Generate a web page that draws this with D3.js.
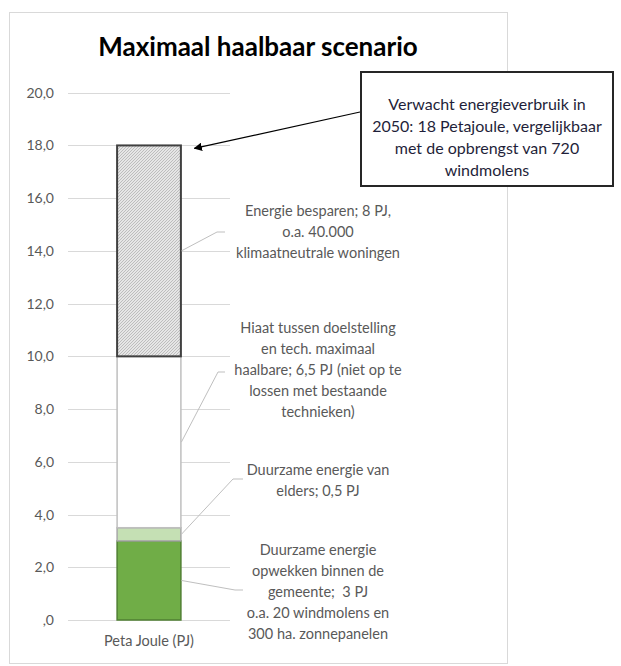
<!DOCTYPE html>
<html>
<head>
<meta charset="utf-8">
<script src="https://cdn.jsdelivr.net/npm/d3@7/dist/d3.min.js"></script>
<style>
  body { margin: 0; background: #fff; }
  svg { display: block; font-family: Lato, "Open Sans", sans-serif; }
</style>
</head>
<body>
<div id="chart"></div>
<script>
// data
var categories = ["Peta Joule (PJ)"];
var segmentNames = ["Duurzaam gemeente", "Duurzaam elders", "Hiaat", "Energie besparen"];
var segmentValues = [3, 0.5, 6.5, 8];
var yTicks = [0, 2, 4, 6, 8, 10, 12, 14, 16, 18, 20];
var segmentLabels = [
  ["Duurzame energie", "opwekken binnen de", "gemeente;  3 PJ", "o.a. 20 windmolens en", "300 ha. zonnepanelen"],
  ["Duurzame energie van", "elders; 0,5 PJ"],
  ["Hiaat tussen doelstelling", "en tech. maximaal", "haalbare; 6,5 PJ (niet op te", "lossen met bestaande", "technieken)"],
  ["Energie besparen; 8 PJ,", "o.a. 40.000", "klimaatneutrale woningen"]
];
var calloutLines = ["Verwacht energieverbruik in", "2050: 18 Petajoule, vergelijkbaar", "met de opbrengst van 720", "windmolens"];
var titleText = "Maximaal haalbaar scenario";

var width = 621, height = 666;

var svg = d3.select("#chart").append("svg")
    .attr("width", width)
    .attr("height", height);

// hatch for the savings segment
var defs = svg.append("defs");
var pat = defs.append("pattern")
    .attr("id", "hatch")
    .attr("patternUnits", "userSpaceOnUse")
    .attr("width", 3)
    .attr("height", 3);
pat.append("rect").attr("width", 3).attr("height", 3).attr("fill", "#e6e6e6");
pat.append("path")
    .attr("d", "M-1,1 l2,-2 M0,3 l3,-3 M2,4 l2,-2")
    .attr("stroke", "#b2b2b2")
    .attr("stroke-width", 0.8);

defs.append("marker")
    .attr("id", "arrow")
    .attr("viewBox", "0 0 10 10")
    .attr("refX", 9).attr("refY", 5)
    .attr("markerWidth", 7).attr("markerHeight", 7)
    .attr("orient", "auto-start-reverse")
    .append("path")
    .attr("d", "M0,0 L10,5 L0,10 z")
    .attr("fill", "#000");

// chart frame
svg.append("rect")
    .attr("x", 9.5).attr("y", 12.5)
    .attr("width", 498).attr("height", 651)
    .attr("fill", "#fff")
    .attr("stroke", "#d9d9d9");

svg.append("text")
    .attr("x", 258).attr("y", 56)
    .attr("text-anchor", "middle")
    .attr("font-size", 26)
    .attr("font-weight", "bold")
    .attr("fill", "#000")
    .text(titleText);

var x = d3.scaleBand().domain(categories).range([68, 230]).paddingInner(0.6).paddingOuter(0.296);
var y = d3.scaleLinear().domain([0, 20]).range([620, 92.7]);

// gridlines
svg.append("g").selectAll("line").data(yTicks).enter().append("line")
    .attr("x1", 68).attr("x2", 230)
    .attr("y1", function(d){ return Math.round(y(d)) + 0.5; })
    .attr("y2", function(d){ return Math.round(y(d)) + 0.5; })
    .attr("stroke", "#d9d9d9");

var yAxis = d3.axisLeft(y).tickValues(yTicks).tickSize(0).tickPadding(0)
    .tickFormat(function(d){ return d == 0 ? ",0" : d.toFixed(1).replace(".", ","); });
var ya = svg.append("g").attr("transform", "translate(54,0)").call(yAxis);
ya.select(".domain").remove();
ya.selectAll("text").attr("font-size", 14).attr("fill", "#595959").attr("font-family", "Lato, sans-serif");

var xAxis = d3.axisBottom(x).tickSize(0).tickPadding(16);
var xa = svg.append("g").attr("transform", "translate(0,620)").call(xAxis);
xa.select(".domain").remove();
xa.selectAll("text").attr("font-size", 14.5).attr("fill", "#595959").attr("font-family", "Lato, sans-serif");

// stacked segments
var stackData = [];
var acc = 0;
for (var i = 0; i < segmentValues.length; i++) {
    stackData.push({ name: segmentNames[i], y0: acc, y1: acc + segmentValues[i], labels: segmentLabels[i] });
    acc += segmentValues[i];
}
var fills = ["#70ad47", "#c5e0b4", "#ffffff", "url(#hatch)"];
var strokes = ["#4f7f32", "#a9a9a9", "#bfbfbf", "#404040"];
var bw = x.bandwidth();
var bx = x(categories[0]);

svg.append("g").selectAll("rect").data(stackData).enter().append("rect")
    .attr("x", bx + 0.5)
    .attr("y", function(d){ return y(d.y1); })
    .attr("width", bw - 1)
    .attr("height", function(d){ return y(d.y0) - y(d.y1); })
    .attr("fill", function(d, i){ return fills[i]; })
    .attr("stroke", function(d, i){ return strokes[i]; })
    .attr("stroke-width", function(d, i){ return i == 3 ? 2 : 1.5; });

// labels and leader lines
var labelX = 318;
var labelTop = [550, 470, 328, 211];   // centre of first line
var lineH = 21;
var elbows = [[235, 590, 243], [233, 479, 243], [218, 372, 225], [217, 232, 225]];

var ann = svg.append("g");
stackData.forEach(function(d, i){
    var e = elbows[i];
    ann.append("polyline")
        .attr("points", [[bx + bw, y((d.y0 + d.y1) / 2)], [e[0], e[1]], [e[2], e[1]]].join(" "))
        .attr("fill", "none")
        .attr("stroke", "#bfbfbf")
        .attr("stroke-width", 1);
    var t = ann.append("text")
        .attr("text-anchor", "middle")
        .attr("font-size", 14.5)
        .attr("fill", "#595959")
        .style("white-space", "pre");
    d.labels.forEach(function(s, k){
        t.append("tspan").attr("x", labelX).attr("y", labelTop[i] + k * lineH + 5).text(s);
    });
});

// callout box with arrow to the top of the bar
svg.append("line")
    .attr("x1", 360).attr("y1", 112)
    .attr("x2", bx + bw + 13).attr("y2", y(acc) + 3)
    .attr("stroke", "#000")
    .attr("stroke-width", 1.2)
    .attr("marker-end", "url(#arrow)");

svg.append("rect")
    .attr("x", 361).attr("y", 72)
    .attr("width", 252).attr("height", 114)
    .attr("fill", "#fff")
    .attr("stroke", "#262626")
    .attr("stroke-width", 2);

var ct = svg.append("text")
    .attr("text-anchor", "middle")
    .attr("font-size", 16)
    .attr("fill", "#1f1f3a");
calloutLines.forEach(function(s, k){
    ct.append("tspan").attr("x", 487).attr("y", 104 + k * 22.3 + 5.5).text(s);
});
</script>
</body>
</html>
